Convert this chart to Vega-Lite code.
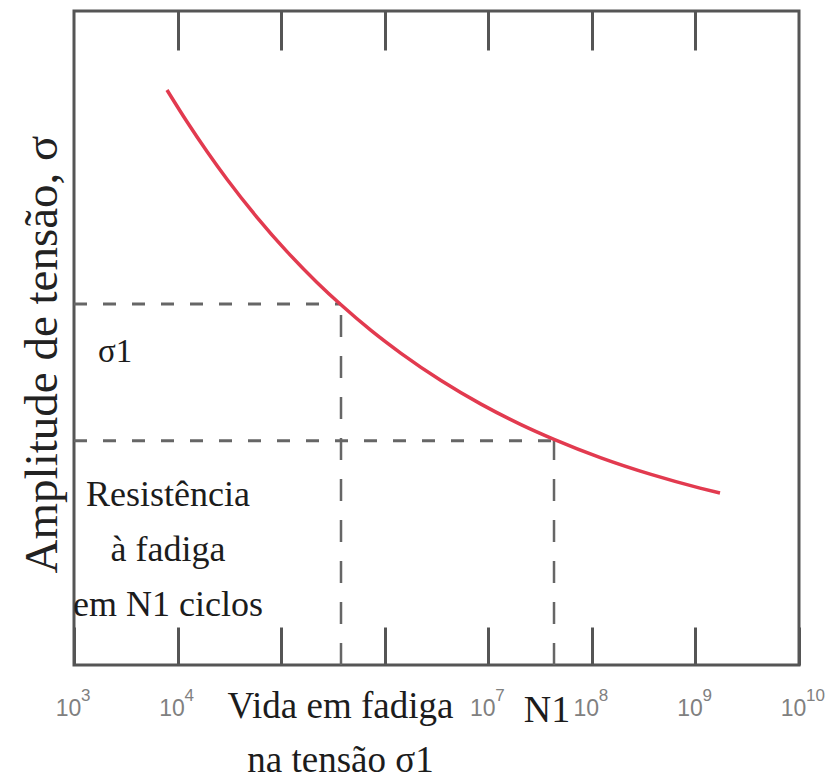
{
  "$schema": "https://vega.github.io/schema/vega-lite/v6.json",
  "width": 725,
  "height": 654,
  "autosize": {"type": "none"},
  "padding": {"left": 74, "top": 11, "right": 37, "bottom": 116},
  "background": "white",
  "config": {
    "view": {"stroke": "#555555", "strokeWidth": 3},
    "axis": {"grid": false}
  },
  "datasets": {
    "curve": [
      {"N": 7905, "S": 87.92},
      {"N": 12330, "S": 83.06},
      {"N": 19240, "S": 78.52},
      {"N": 30010, "S": 74.28},
      {"N": 58460, "S": 68.46},
      {"N": 113900, "S": 63.21},
      {"N": 221900, "S": 58.5},
      {"N": 378400, "S": 55.08},
      {"N": 737100, "S": 51.16},
      {"N": 1437000, "S": 47.66},
      {"N": 3496000, "S": 43.5},
      {"N": 8504000, "S": 39.89},
      {"N": 20690000, "S": 36.76},
      {"N": 43110000, "S": 34.5},
      {"N": 122500000, "S": 31.67},
      {"N": 372500000, "S": 29.14},
      {"N": 1107000000, "S": 27.05},
      {"N": 1727000000, "S": 26.3}
    ],
    "hguides": [
      {"N0": 1000, "N1": 378400, "S": 55.2},
      {"N0": 1000, "N1": 43110000, "S": 34.3}
    ],
    "vguides": [
      {"N": 378400, "S0": 0, "S1": 55.2},
      {"N": 43110000, "S0": 0, "S1": 34.3}
    ],
    "exps": [
      {"N": 1000, "S": -5.5, "e": "3"},
      {"N": 10000, "S": -5.5, "e": "4"},
      {"N": 10000000, "S": -5.5, "e": "7"},
      {"N": 100000000, "S": -5.5, "e": "8"},
      {"N": 1000000000, "S": -5.5, "e": "9"},
      {"N": 10000000000, "S": -5.5, "e": "10"}
    ],
    "sigma": [{"N": 1705, "S": 46.3, "label": "σ1"}],
    "resist": [{"N": 8085, "S": 24.3, "label": "Resistência\nà fadiga\nem N1 ciclos"}],
    "n1": [{"N": 36900000, "S": -8.7, "label": "N1"}]
  },
  "layer": [
    {
      "data": {"name": "hguides"},
      "mark": {"type": "rule", "color": "#666666", "strokeWidth": 3, "strokeDash": [13, 16]},
      "encoding": {
        "x": {
          "field": "N0", "type": "quantitative",
          "scale": {"type": "log", "domain": [1000, 10000000000], "nice": false},
          "axis": {
            "orient": "top",
            "values": [10000, 100000, 1000000, 10000000, 100000000, 1000000000],
            "tickSize": -39, "tickWidth": 3, "tickColor": "#555555",
            "labels": false, "domain": false, "title": null
          }
        },
        "x2": {"field": "N1"},
        "y": {
          "field": "S", "type": "quantitative",
          "scale": {"domain": [0, 100], "nice": false, "zero": false}
        }
      }
    },
    {
      "data": {"name": "vguides"},
      "mark": {"type": "rule", "color": "#666666", "strokeWidth": 2.5, "strokeDash": [22, 19]},
      "encoding": {
        "x": {"field": "N", "type": "quantitative", "axis": null},
        "y": {"field": "S0", "type": "quantitative"},
        "y2": {"field": "S1"}
      }
    },
    {
      "data": {"name": "curve"},
      "mark": {"type": "line", "color": "#e23a4f", "strokeWidth": 3.5, "interpolate": "monotone"},
      "encoding": {
        "x": {
          "field": "N", "type": "quantitative",
          "axis": {
            "orient": "bottom",
            "values": [1000, 10000, 100000, 1000000, 10000000, 100000000, 1000000000, 10000000000],
            "labelExpr": "(round(log(datum.value)/LN10) == 5 || round(log(datum.value)/LN10) == 6) ? '' : '10'",
            "tickSize": -38, "tickWidth": 3, "tickColor": "#555555",
            "domain": false,
            "labelFont": "Liberation Sans", "labelFontSize": 23, "labelColor": "#808080",
            "labelBaseline": "alphabetic", "labelPadding": 88, "labelOffset": -6,
            "labelOverlap": false, "labelFlush": false, "labelBound": false,
            "title": ["Vida em fadiga", "na tensão σ1"],
            "titleFont": "Liberation Serif", "titleFontSize": 37, "titleFontWeight": "normal",
            "titleColor": "#1c1c1c", "titleX": 266, "titleY": 52,
            "titleAlign": "center", "titleBaseline": "alphabetic", "titleLineHeight": 54
          }
        },
        "y": {
          "field": "S", "type": "quantitative",
          "axis": {
            "domain": false, "ticks": false, "labels": false,
            "title": "Amplitude de tensão, σ",
            "titleFont": "Liberation Serif", "titleFontSize": 47, "titleFontWeight": "normal",
            "titleColor": "#222222", "titleAngle": 270, "titleX": -18, "titleY": 343,
            "titleAlign": "center", "titleBaseline": "alphabetic"
          }
        }
      }
    },
    {
      "data": {"name": "exps"},
      "mark": {"type": "text", "font": "Liberation Sans", "fontSize": 17, "color": "#808080", "align": "left", "baseline": "alphabetic", "dx": 7},
      "encoding": {
        "x": {"field": "N", "type": "quantitative", "axis": null},
        "y": {"field": "S", "type": "quantitative"},
        "text": {"field": "e", "type": "nominal"}
      }
    },
    {
      "data": {"name": "sigma"},
      "mark": {"type": "text", "font": "Liberation Serif", "fontSize": 33, "color": "#1c1c1c", "align": "left", "baseline": "alphabetic"},
      "encoding": {
        "x": {"field": "N", "type": "quantitative", "axis": null},
        "y": {"field": "S", "type": "quantitative"},
        "text": {"field": "label", "type": "nominal"}
      }
    },
    {
      "data": {"name": "resist"},
      "mark": {"type": "text", "font": "Liberation Serif", "fontSize": 36, "color": "#1c1c1c", "align": "center", "baseline": "alphabetic", "lineBreak": "\n", "lineHeight": 55},
      "encoding": {
        "x": {"field": "N", "type": "quantitative", "axis": null},
        "y": {"field": "S", "type": "quantitative"},
        "text": {"field": "label", "type": "nominal"}
      }
    },
    {
      "data": {"name": "n1"},
      "mark": {"type": "text", "font": "Liberation Serif", "fontSize": 38, "color": "#1c1c1c", "align": "center", "baseline": "alphabetic"},
      "encoding": {
        "x": {"field": "N", "type": "quantitative", "axis": null},
        "y": {"field": "S", "type": "quantitative"},
        "text": {"field": "label", "type": "nominal"}
      }
    }
  ],
  "resolve": {"axis": {"x": "independent"}}
}
